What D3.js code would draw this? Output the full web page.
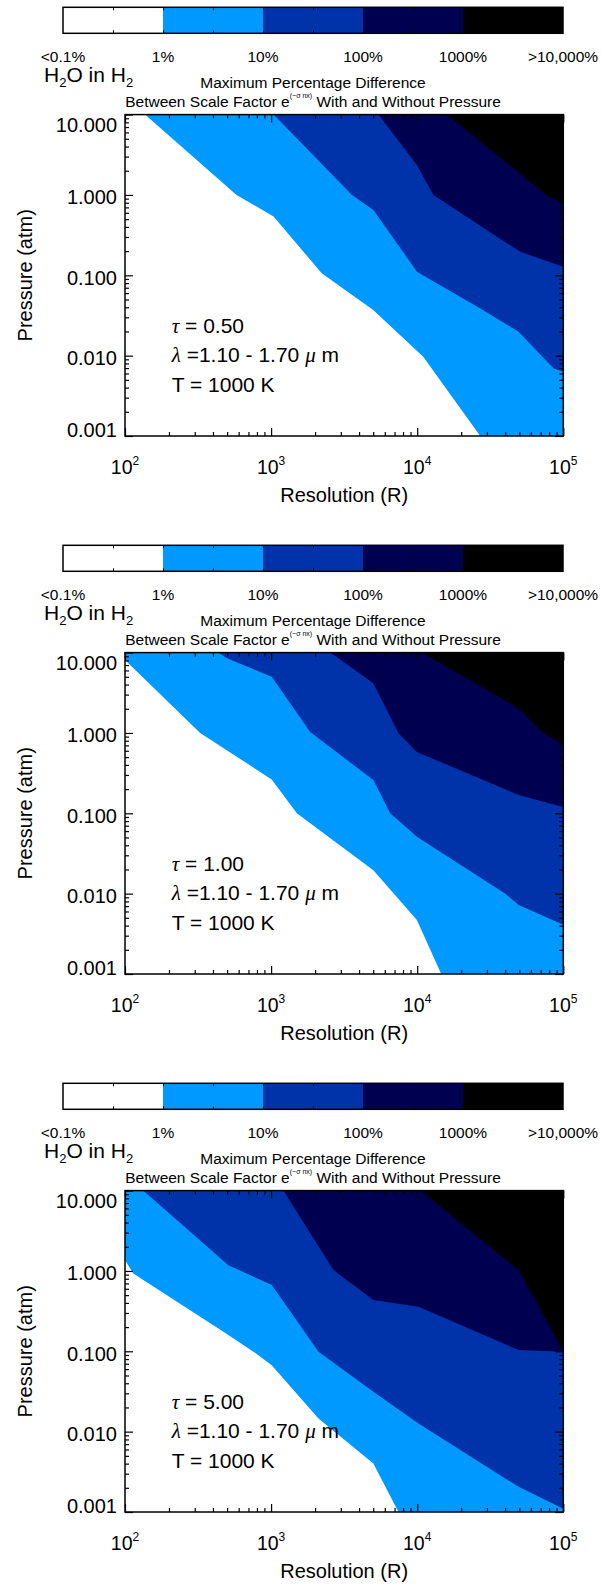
<!DOCTYPE html>
<html>
<head>
<meta charset="utf-8">
<script src="https://cdn.jsdelivr.net/npm/d3@7"></script>
<style>
body { margin: 0; background: #fff; }
svg { display: block; font-family: 'Liberation Sans', Arial, sans-serif; }
</style>
</head>
<body>
<svg></svg>
<script>
const width = 601;
const height = 1587;

// colour bar levels
const levelLabels = ['<0.1%', '1%', '10%', '100%', '1000%', '>10,000%'];
const levelColors = ['#ffffff', '#0099ff', '#0033aa', '#000050', '#000000'];

// axes
const resolutionDomain = [100, 100000];
const pressureDomain = [0.001, 10];
const resolutionTicks = [100, 1000, 10000, 100000];
const resolutionExponents = ['2', '3', '4', '5'];
const pressureTicks = [0.001, 0.01, 0.1, 1, 10];
const pressureTickLabels = ['0.001', '0.010', '0.100', '1.000', '10.000'];

// panels
const tauLabels = ['0.50', '1.00', '5.00'];

// contour boundaries [R, P]: 1%, 10%, 100%, 1000% levels
const tau050 = [
    [[137, 10], [580, 1.0], [1040, 0.54], [2220, 0.106], [5000, 0.037], [11000, 0.0097], [27000, 0.001]],
    [[1040, 10], [3575, 1.0], [5010, 0.65], [9950, 0.111], [27000, 0.0387], [49400, 0.0198], [85900, 0.0069], [100000, 0.0063]],
    [[5430, 10], [9950, 2.36], [12900, 1.0], [50700, 0.196], [100000, 0.128]],
    [[15960, 10], [79300, 0.95], [100000, 0.79]]
];
const tau100 = [
    [[100, 8.1], [327, 1.0], [1010, 0.264], [1500, 0.1], [5010, 0.0196], [9950, 0.0047], [14600, 0.001]],
    [[435, 10], [498, 8.5], [1010, 5.0], [1850, 1.03], [5010, 0.259], [6530, 0.1], [9950, 0.051], [40100, 0.01], [49400, 0.0072], [100000, 0.0041]],
    [[2540, 10], [5010, 4.15], [7450, 0.99], [9950, 0.58], [49400, 0.169], [100000, 0.12]],
    [[10800, 10], [49400, 2.02], [71500, 1.03], [100000, 0.71]]
];
const tau500 = [
    [[100, 1.37], [114, 0.93], [510, 0.159], [757, 0.099], [1010, 0.067], [2110, 0.0146], [5010, 0.004], [7450, 0.001]],
    [[133, 10], [510, 1.18], [1010, 0.667], [2110, 0.099], [5010, 0.0313], [10200, 0.0126], [49400, 0.00206], [100000, 0.0011]],
    [[1213, 10], [2670, 1.03], [5010, 0.434], [10200, 0.358], [49400, 0.104], [100000, 0.099]],
    [[10500, 10], [49400, 1.03], [100000, 0.1]]
];
const panels = [tau050, tau100, tau500];

const panelOffsets = [0, 538, 1076];
const plot = { left: 125, right: 563.3, top: 114.6, bottom: 436 };
const bar = { left: 63, right: 563, top: 7.3, bottom: 33.3 };

const svg = d3.select('svg')
    .attr('width', width)
    .attr('height', height);

const x = d3.scaleLog().domain(resolutionDomain).range([plot.left, plot.right]);
const y = d3.scaleLog().domain(pressureDomain).range([plot.bottom, plot.top]);
const cb = d3.scaleLinear().domain([0, 5]).range([bar.left, bar.right]);

const logTicks = (domain, major) => {
    const out = [];
    const e0 = Math.floor(Math.log10(domain[0]));
    const e1 = Math.ceil(Math.log10(domain[1]));
    for (let e = e0; e <= e1; e++) {
        for (let k = 1; k < 10; k++) {
            const v = k * Math.pow(10, e);
            if (v < domain[0] * 0.999 || v > domain[1] * 1.001) continue;
            if ((k === 1) === major) out.push(v);
        }
    }
    return out;
};

// close a boundary round the upper right corner of the plot
const boundaryPolygon = b => {
    const pts = b.slice();
    const first = pts[0], last = pts[pts.length - 1];
    if (last[1] <= pressureDomain[0] * 1.0001 && last[0] < resolutionDomain[1]) pts.push([resolutionDomain[1], pressureDomain[0]]);
    pts.push([resolutionDomain[1], pressureDomain[1]]);
    if (first[0] <= resolutionDomain[0] * 1.0001 && first[1] < pressureDomain[1]) pts.push([resolutionDomain[0], pressureDomain[1]]);
    return pts;
};

const line = d3.line().x(d => x(d[0])).y(d => y(d[1]));

svg.append('defs').append('clipPath').attr('id', 'plotclip')
    .append('rect')
    .attr('x', plot.left).attr('y', plot.top)
    .attr('width', plot.right - plot.left).attr('height', plot.bottom - plot.top);

panels.forEach((bounds, p) => {
    const g = svg.append('g').attr('transform', `translate(0,${panelOffsets[p]})`);

    // colour bar
    g.selectAll('rect.band').data(levelColors).enter().append('rect')
        .attr('class', 'band')
        .attr('x', (d, i) => cb(i))
        .attr('y', bar.top)
        .attr('width', cb(1) - cb(0))
        .attr('height', bar.bottom - bar.top)
        .attr('fill', d => d);
    g.append('rect')
        .attr('x', bar.left).attr('y', bar.top)
        .attr('width', bar.right - bar.left).attr('height', bar.bottom - bar.top)
        .attr('fill', 'none').attr('stroke', '#000').attr('stroke-width', 1.5);
    g.append('g').attr('transform', `translate(0,${bar.bottom})`)
        .call(d3.axisBottom(cb).tickValues(d3.range(0.5, 5, 0.5)).tickSize(-3).tickFormat(''))
        .call(a => a.select('.domain').remove());
    g.append('g').attr('transform', `translate(0,${bar.top})`)
        .call(d3.axisTop(cb).tickValues(d3.range(0.5, 5, 0.5)).tickSize(-3).tickFormat(''))
        .call(a => a.select('.domain').remove());
    g.selectAll('text.lev').data(levelLabels).enter().append('text')
        .attr('class', 'lev')
        .attr('x', (d, i) => cb(i))
        .attr('y', 62)
        .attr('text-anchor', 'middle')
        .attr('font-size', 15.5)
        .text(d => d);

    // H2O in H2
    const h = g.append('text').attr('x', 44).attr('y', 82).attr('font-size', 21);
    h.append('tspan').text('H');
    h.append('tspan').attr('font-size', 13).attr('dy', 5).text('2');
    h.append('tspan').attr('dy', -5).text('O in H');
    h.append('tspan').attr('font-size', 13).attr('dy', 5).text('2');

    // title
    g.append('text').attr('x', 313).attr('y', 88).attr('text-anchor', 'middle')
        .attr('font-size', 15.5).text('Maximum Percentage Difference');
    const t2 = g.append('text').attr('x', 313).attr('y', 106.5).attr('text-anchor', 'middle')
        .attr('font-size', 15.5);
    t2.append('tspan').text('Between Scale Factor e');
    t2.append('tspan').attr('font-size', 7).attr('dy', -9).text('(\u2212\u03c3 nx)');
    t2.append('tspan').attr('dy', 9).text(' With and Without Pressure');

    // contours
    const c = g.append('g').attr('clip-path', 'url(#plotclip)');
    c.append('rect')
        .attr('x', plot.left).attr('y', plot.top)
        .attr('width', plot.right - plot.left).attr('height', plot.bottom - plot.top)
        .attr('fill', levelColors[0]);
    c.selectAll('path').data(bounds).enter().append('path')
        .attr('d', d => line(boundaryPolygon(d)) + 'Z')
        .attr('fill', (d, i) => levelColors[i + 1]);

    // ticks on all four sides
    const tickStyle = a => a.call(s => s.select('.domain').remove())
        .call(s => s.selectAll('line').attr('stroke-width', 1.2));
    [[true, 8], [false, 4]].forEach(([major, len]) => {
        const xv = logTicks(resolutionDomain, major);
        const yv = logTicks(pressureDomain, major);
        g.append('g').attr('transform', `translate(0,${plot.bottom})`)
            .call(d3.axisBottom(x).tickValues(xv).tickSize(-len).tickFormat('')).call(tickStyle);
        g.append('g').attr('transform', `translate(0,${plot.top})`)
            .call(d3.axisTop(x).tickValues(xv).tickSize(-len).tickFormat('')).call(tickStyle);
        g.append('g').attr('transform', `translate(${plot.left},0)`)
            .call(d3.axisLeft(y).tickValues(yv).tickSize(-len).tickFormat('')).call(tickStyle);
        g.append('g').attr('transform', `translate(${plot.right},0)`)
            .call(d3.axisRight(y).tickValues(yv).tickSize(-len).tickFormat('')).call(tickStyle);
    });

    g.append('rect')
        .attr('x', plot.left).attr('y', plot.top)
        .attr('width', plot.right - plot.left).attr('height', plot.bottom - plot.top)
        .attr('fill', 'none').attr('stroke', '#000').attr('stroke-width', 1.5);

    // y tick labels
    g.selectAll('text.ylab').data(pressureTicks).enter().append('text')
        .attr('class', 'ylab')
        .attr('x', 117)
        .attr('y', d => Math.min(Math.max(y(d) + 9.5, plot.top + 17), plot.bottom + 1))
        .attr('text-anchor', 'end')
        .attr('font-size', 20)
        .text((d, i) => pressureTickLabels[i]);

    // x tick labels
    const xl = g.selectAll('text.xlab').data(resolutionTicks).enter().append('text')
        .attr('class', 'xlab')
        .attr('x', d => x(d))
        .attr('y', plot.bottom + 38)
        .attr('text-anchor', 'middle')
        .attr('font-size', 19.5);
    xl.append('tspan').text('10');
    xl.append('tspan').attr('font-size', 12).attr('dy', -9).text((d, i) => resolutionExponents[i]);

    g.append('text')
        .attr('x', (plot.left + plot.right) / 2)
        .attr('y', plot.bottom + 66)
        .attr('text-anchor', 'middle')
        .attr('font-size', 20)
        .text('Resolution (R)');

    g.append('text')
        .attr('transform', `translate(32,${(plot.top + plot.bottom) / 2}) rotate(-90)`)
        .attr('text-anchor', 'middle')
        .attr('font-size', 20)
        .text('Pressure (atm)');

    // annotations
    const greek = s => s.attr('font-family', "'Liberation Serif', 'DejaVu Serif', serif").attr('font-style', 'italic');
    const a1 = g.append('text').attr('x', 171.7).attr('y', plot.top + 218).attr('font-size', 21);
    a1.append('tspan').call(greek).text('\u03c4');
    a1.append('tspan').text(' = ' + tauLabels[p]);
    const a2 = g.append('text').attr('x', 171.7).attr('y', plot.top + 247).attr('font-size', 21);
    a2.append('tspan').call(greek).text('\u03bb');
    a2.append('tspan').text(' =1.10 - 1.70 ');
    a2.append('tspan').call(greek).text('\u03bc');
    a2.append('tspan').text(' m');
    g.append('text').attr('x', 171.7).attr('y', plot.top + 277).attr('font-size', 21)
        .text('T = 1000 K');
});
</script>
</body>
</html>
